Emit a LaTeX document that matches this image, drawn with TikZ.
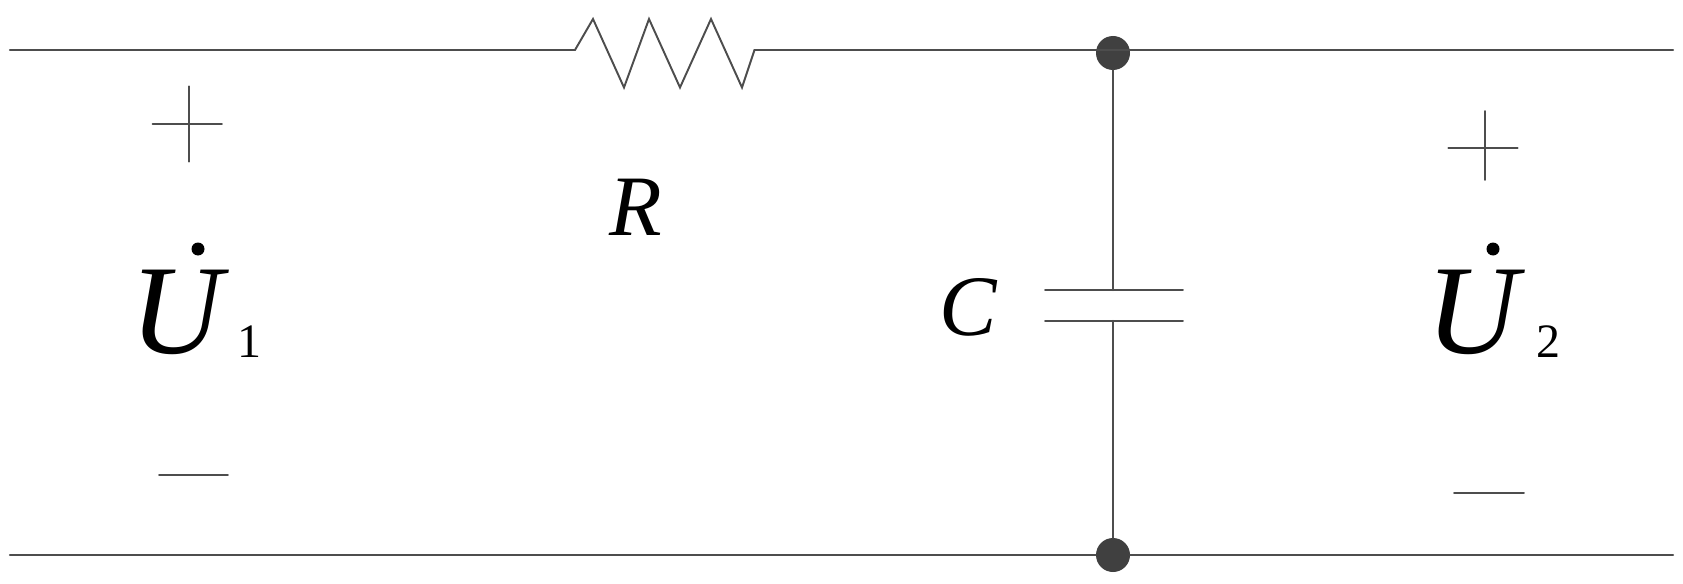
\documentclass[tikz,border=0pt]{standalone}
\usepackage{fontspec}
\setmainfont{Liberation Serif}
\definecolor{wirecol}{HTML}{4D4D4D}
\definecolor{dotcol}{HTML}{404040}
\begin{document}
\begin{tikzpicture}
  [x=.2mm,y=-.2mm,line cap=round,line join=miter]
  \tikzstyle{wire} = [draw=wirecol,line width=1.35pt]
  \tikzstyle{thin wire} = [draw=wirecol,line width=1.1pt]
  \tikzstyle{junction} = [circle,fill=dotcol,inner sep=0pt,minimum size=.68cm]
  \tikzstyle{overdot} = [circle,fill=black,inner sep=0pt,minimum size=.26cm]
  \tikzstyle{small label} = [inner sep=0pt,anchor=base,font=\fontsize{49}{49}\selectfont\itshape]
  \tikzstyle{big label} = [inner sep=0pt,anchor=base,font=\fontsize{72.5}{72.5}\selectfont\itshape]
  \tikzstyle{index label} = [inner sep=0pt,anchor=base,font=\fontsize{27.3}{27.3}\selectfont]
  \useasboundingbox (0,0) rectangle (1683,584);
  \foreach \name /\x /\y in {tl/10/50,tr/1673/50,bl/10/555,br/1673/555,
    r1/575/50,r2/593/19,r3/624/87.5,r4/649/19,r5/680/87.5,r6/711/19,r7/742/87.5,r8/754.5/50,
    pa/1113/290,pb/1113/321,pal/1045/290,par/1183/290,pbl/1045/321,pbr/1183/321,
    pl1/189/86.4,pl2/189/161.6,pl3/152.5/124,pl4/221.8/124,ml1/159/475,ml2/228/475,
    pr1/1485/111,pr2/1485/180,pr3/1448.3/148.2,pr4/1517.6/148.2,mr1/1454/492.7,mr2/1524/492.7}
    \coordinate (\name) at (\x,\y);
  \node[junction] (nt) at (1113,53) {};
  \node[junction] (nb) at (1113,555) {};
  \node[small label] (lr) at (636,235) {R};
  \node[small label] (lc) at (968,335) {C};
  \node[big label] (u1) at (177,353) {U};
  \node[big label] (u2) at (1472,353) {U};
  \node[overdot] (d1) at (198,249) {};
  \node[overdot] (d2) at (1493,249) {};
  \node[index label] (s1) at (249,357) {1};
  \node[index label] (s2) at (1548,357) {2};
  \draw[wire] (tl) -- (r1);
  \draw[thin wire] (r1) -- (r2) -- (r3) -- (r4) -- (r5) -- (r6) -- (r7) -- (r8);
  \draw[wire] (r8) -- (r8 -| nt) -- (tr);
  \draw[wire] (bl) -- (nb) -- (br);
  \draw[wire] (nt) -- (pa);
  \draw[wire] (pb) -- (nb);
  \foreach \source /\dest in {pal/par,pbl/pbr,pl1/pl2,pl3/pl4,ml1/ml2,pr1/pr2,pr3/pr4,mr1/mr2}
    \draw[thin wire] (\source) -- (\dest);
\end{tikzpicture}
\end{document}
